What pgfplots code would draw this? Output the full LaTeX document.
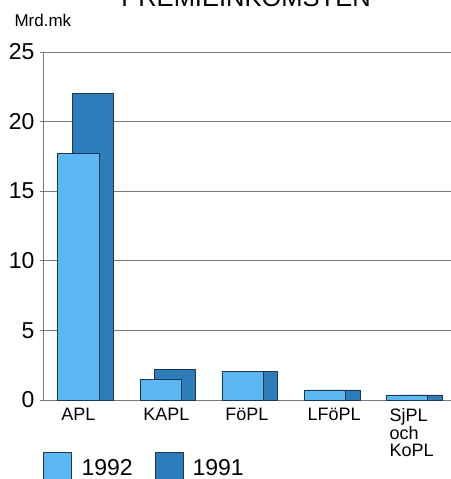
\documentclass[border=0pt]{standalone}
\usepackage{pgfplots}
\pgfplotsset{compat=1.18}
\usepackage{fontspec}
\setmainfont{Liberation Sans}
\definecolor{light}{HTML}{5BB8F2}
\definecolor{dark}{HTML}{2E7DBB}
\definecolor{edge}{HTML}{1F3550}
\definecolor{gridc}{HTML}{7A7A7A}
\begin{document}
\begin{tikzpicture}
  \begin{axis}[
      at={(43bp,79bp)},
      anchor=south west,
      scale only axis,
      width=408bp,
      height=348bp,
      ybar,
      bar shift=0pt,
      bar width=0.5,
      xmin=-0.43, xmax=4.54,
      ymin=0, ymax=25,
      ytick={0,5,10,15,20,25},
      yticklabel style={font=\fontsize{23bp}{23bp}\selectfont, xshift=-2bp},
      /pgf/number format/assume math mode=true,
      xtick={-0.25,0.75,1.75,2.75,3.75},
      xticklabels={APL,KAPL,FöPL,LFöPL,{SjPL\\och\\KoPL}},
      xticklabel style={font=\fontsize{18bp}{17.5bp}\selectfont, anchor=north west, align=left, yshift=-2bp},
      major x tick style={draw=none},
      axis x line*=bottom,
      axis y line*=left,
      axis line style={gridc, line width=0.8bp},
      ytick style={gridc, line width=0.8bp},
      tick align=outside,
      major tick length=3bp,
      ymajorgrids=true,
      grid style={gridc, line width=0.8bp},
      every axis plot/.append style={draw=edge, line width=0.6bp},
      clip=false,
    ]
    % 1991 (behind, offset right)
    \addplot[fill=dark] coordinates {
      (0.18,22.0) (1.18,2.2) (2.18,2.05) (3.18,0.72) (4.18,0.37)
    };
    % 1992 (front)
    \addplot[fill=light] coordinates {
      (0,17.7) (1,1.5) (2,2.05) (3,0.72) (4,0.37)
    };
  \end{axis}
  % title (cut at the top edge as in the source) and unit
  \node[anchor=base, font=\fontsize{25.5bp}{25.5bp}\selectfont] at (246bp,472bp) {PREMIEINKOMSTEN};
  \node[anchor=base west, font=\fontsize{17bp}{17bp}\selectfont] at (11bp,452bp) {Mrd.mk};
  % legend
  \filldraw[fill=light, draw=edge, line width=0.6bp] (43bp,-10bp) rectangle (71bp,27bp);
  \node[anchor=base west, font=\fontsize{23bp}{23bp}\selectfont] at (78bp,4bp) {1992};
  \filldraw[fill=dark, draw=edge, line width=0.6bp] (155bp,-10bp) rectangle (183bp,27bp);
  \node[anchor=base west, font=\fontsize{23bp}{23bp}\selectfont] at (189bp,4bp) {1991};
  \pgfresetboundingbox
  \useasboundingbox (0,0) rectangle (451bp,479bp);
\end{tikzpicture}
\end{document}
